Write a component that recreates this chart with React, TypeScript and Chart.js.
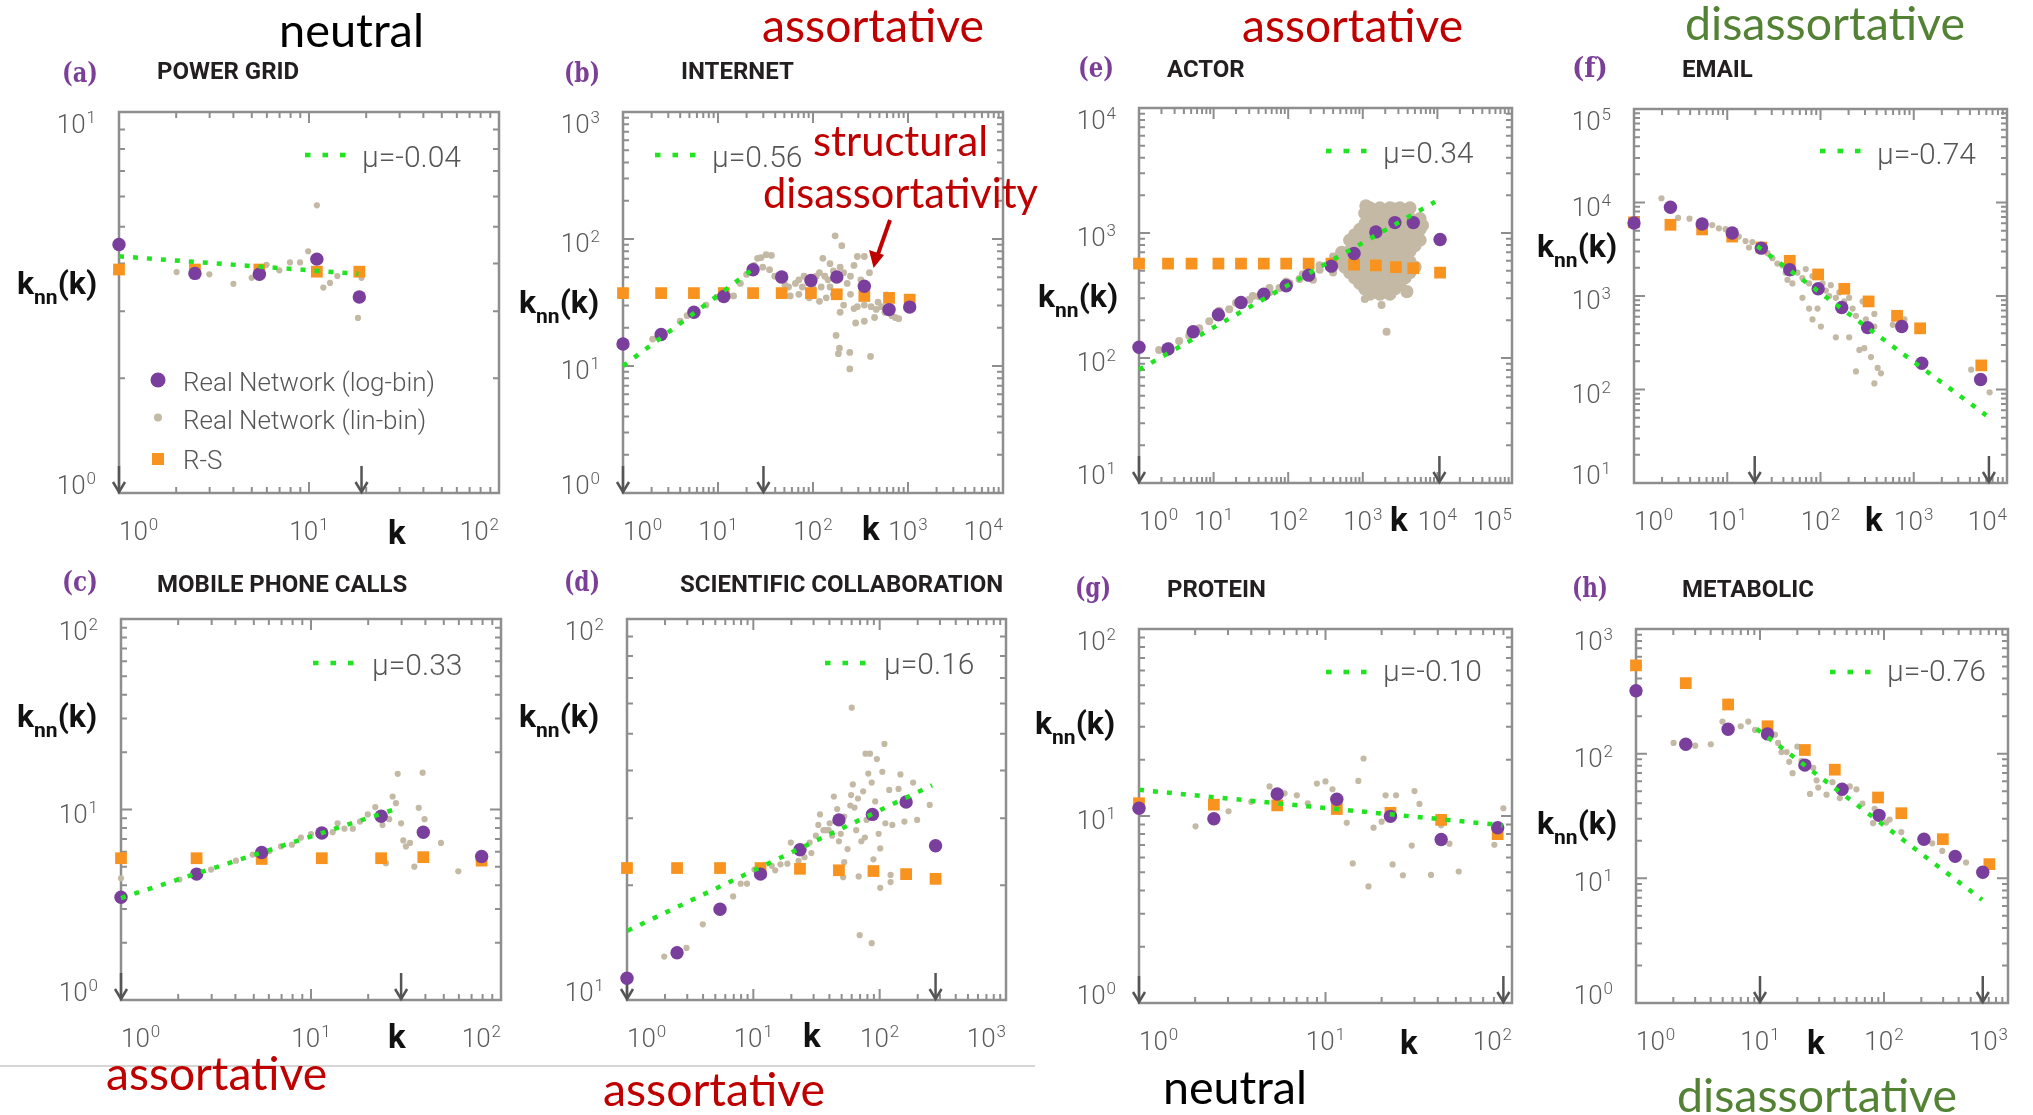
import React, { useEffect, useRef } from 'react';
import { Chart, registerables } from 'chart.js';
Chart.register(...registerables);

// ---------------- DATA ----------------
// (a) POWER GRID
const aLogK = [1, 2.51, 5.48, 11.0, 18.4];
const aLogKnn = [4.49, 3.77, 3.75, 4.11, 3.27];
const aRsK = [1, 2.51, 5.48, 11.0, 18.4];
const aRsKnn = [3.86, 3.86, 3.86, 3.81, 3.81];
const aLinBin = [[2.01,3.80],[2.99,3.75],[4.0,3.54],[4.99,3.67],[5.98,3.97],[6.98,3.84],[7.94,4.03],[8.97,4.03],[9.9,4.31],[11.0,5.69],[11.9,3.46],[12.9,3.56],[14.1,3.71],[18.1,2.88],[18.9,3.67]];
const aFitK = [1, 18.2];
const aFitKnn = [4.18, 3.76];
const aCutoffs = [1, 18.9];

// (b) INTERNET
const bLogK = [1, 2.52, 5.58, 11.5, 23.4, 46.8, 95.1, 178, 347, 632, 1042];
const bLogKnn = [14.9, 17.7, 26.5, 35.3, 57.3, 50.2, 47.1, 50.2, 42.4, 27.8, 29.1];
const bRsK = [1, 2.52, 5.58, 11.5, 23.4, 46.8, 95.1, 178, 347, 632, 1042];
const bRsKnn = [37.5, 37.5, 37.5, 37.5, 37.5, 37.5, 37.5, 36.7, 35.6, 34.4, 33.3];
const bLinBin = [[2.05,16.3],[2.52,18.5],[4.0,22.5],[4.72,24.9],[7.47,30.2],[9.75,34.9],[12.8,35.6],[14.6,35.6],[17.2,44.7],[20.0,52.6],[24.0,61.9],[26.1,70.5],[28.4,71.4],[32.1,75.3],[36.5,74.3],[29.6,59.9],[34.9,57.3],[39.6,50.9],[44.9,47.7],[50.9,43.3],[55.3,41.9],[57.6,35.6],[65.3,44.7],[71.0,47.7],[80.5,50.9],[91.2,48.3],[108,50.9],[117,54.3],[133,50.9],[144,47.7],[164,56.1],[193,59.9],[210,54.3],[229,44.7],[248,50.9],[270,61.9],[293,72.8],[347,72.8],[393,54.3],[171,106],[201,88.6],[127,70.5],[151,63.9],[210,30.2],[248,36.7],[270,28.3],[193,26.5],[293,29.3],[347,30.2],[409,29.3],[464,27.9],[526,29.3],[572,26.5],[676,24.9],[734,24.1],[798,23.6],[281,21.8],[347,22.5],[445,24.1],[175,17.4],[190,13.8],[185,12.5],[244,12.8],[244,9.48],[403,11.9],[596,36.3],[71.0,36.7],[91.2,34.4],[117,32.3],[138,34.4],[164,36.7],[77.2,41.9],[99.1,41.9],[122,41.9],[151,41.9],[319,47.7],[484,31.8]];
const bFitK = [1, 24];
const bFitKnn = [10, 58.7];
const bCutoffs = [1, 30.1];

// (e) ACTOR
const eLogK = [1, 2.45, 5.33, 11.6, 23.3, 47.1, 94.0, 188, 379, 764, 1496, 2693, 4753, 10860];
const eLogKnn = [122, 118, 162, 222, 278, 324, 378, 460, 543, 686, 1020, 1211, 1211, 887];
const eRsK = [1, 2.45, 5.06, 11.6, 23.3, 47.1, 94.0, 188, 379, 764, 1496, 2780, 4753, 10860];
const eRsKnn = [569, 569, 569, 569, 569, 569, 569, 569, 569, 558, 551, 533, 523, 482];
const eLinBin = [[1.86,116],[2.53,124],[3.45,137],[4.71,151],[6.41,173],[8.74,197],[11.9,221],[16.2,245],[22.1,269],[30.2,292],[41.1,312],[56.1,335],[76.4,363],[104,396],[142,428],[194,467],[264,508],[360,558],[491,621],[11.9,239],[20.0,275],[33.5,313],[56.1,363],[94.0,409],[157,467],[264,551],[399,650],[215,423],[399,482],[1064,297],[1783,266],[2081,162]];
const eLinBinCloud = [[1242,1589],[1694,1589],[2307,1589],[3147,1589],[4289,1589],[1242,1303],[1694,1303],[2307,1303],[3147,1303],[4289,1303],[5848,1303],[911,1069],[1242,1069],[1694,1069],[2307,1069],[3147,1069],[4289,1069],[5848,1069],[668,876],[911,876],[1242,876],[1694,876],[2307,876],[3147,876],[4289,876],[5848,876],[668,718],[911,718],[1242,718],[1694,718],[2307,718],[3147,718],[4289,718],[491,589],[668,589],[911,589],[1242,589],[1694,589],[2307,589],[3147,589],[4289,589],[668,482],[911,482],[1242,482],[1694,482],[2307,482],[3147,482],[4289,482],[911,395],[1242,395],[1694,395],[2307,395],[3147,395],[1242,324],[1694,324],[2307,324],[1064,1439],[1450,1439],[1977,1439],[2693,1439],[3673,1439],[1064,1180],[1450,1180],[1977,1180],[2693,1180],[3673,1180],[5010,1180],[780,968],[1064,968],[1450,968],[1977,968],[2693,968],[3673,968],[5010,968],[780,793],[1064,793],[1450,793],[1977,793],[2693,793],[3673,793],[5010,793],[573,650],[780,650],[1064,650],[1450,650],[1977,650],[2693,650],[3673,650],[573,533],[780,533],[1064,533],[1450,533],[1977,533],[2693,533],[3673,533],[5010,533],[780,437],[1064,437],[1450,437],[1977,437],[2693,437],[3673,437],[1064,358],[1450,358],[1977,358],[2693,358],[1100,1650],[2600,1560],[6300,1150],[520,700],[3900,340]];
const eFitK = [1, 9300];
const eFitKnn = [80.5, 1778];
const eCutoffs = [1, 10640];

// (f) EMAIL
const fLogK = [1, 2.46, 5.38, 11.3, 23.2, 46.8, 94.4, 169, 320, 743, 1219, 5210];
const fLogKnn = [6040, 8910, 5880, 4710, 3250, 1910, 1194, 753, 459, 471, 191, 128];
const fRsK = [1, 2.46, 5.38, 11.3, 23.2, 46.8, 94.4, 180, 328, 662, 1170, 5300];
const fRsKnn = [6140, 5780, 5150, 4320, 3300, 2380, 1700, 1194, 875, 614, 451, 181];
const fLinBin = [[1.97,11100],[2.97,6840],[3.94,6710],[6.90,5730],[8.13,5290],[9.60,5180],[13.3,4320],[15.7,3870],[18.6,3780],[17.1,3300],[26.9,2890],[30.5,2540],[34.5,2220],[39.0,2120],[42.4,1778],[44.2,1490],[50.0,1364],[56.6,1778],[64.0,1556],[69.5,1942],[75.5,1364],[82.0,1629],[89.1,1247],[105,1364],[114,1143],[124,1000],[129,1304],[146,957],[159,1092],[180,875],[203,957],[221,733],[240,614],[283,875],[307,562],[378,643],[378,471],[82.0,562],[101,471],[64.0,957],[75.5,733],[92.9,733],[146,361],[203,361],[261,265],[295,277],[348,222],[240,156],[410,170],[445,149],[378,116],[595,492],[794,562],[4130,163],[6510,93.2]];
const fFitK = [21.0, 5990];
const fFitKnn = [3400, 52.9];
const fCutoffs = [19.7, 6400];

// (c) MOBILE PHONE CALLS
const cLogK = [1, 2.50, 5.50, 11.4, 23.4, 39.0, 79.1];
const cLogKnn = [3.46, 4.58, 5.95, 7.53, 9.22, 7.60, 5.67];
const cRsK = [1, 2.50, 5.50, 11.4, 23.4, 39.0, 79.1];
const cRsKnn = [5.55, 5.55, 5.50, 5.55, 5.55, 5.62, 5.39];
const cLinBin = [[1,4.35],[2.03,4.29],[2.98,4.84],[4.03,5.39],[4.93,5.80],[6.04,6.05],[6.95,6.40],[7.94,6.54],[8.85,7.12],[10.0,7.43],[13.0,7.60],[13.8,8.46],[15.0,7.93],[16.6,7.93],[18.1,8.64],[19.9,9.42],[21.8,10.3],[23.8,8.28],[24.8,5.23],[25.8,8.90],[26.9,11.7],[28.0,10.8],[28.6,15.4],[29.8,8.46],[30.6,6.88],[31.6,6.40],[33.2,6.68],[35.0,5.01],[36.9,10.2],[38.7,15.6],[39.6,8.90],[48.3,6.68],[59.6,4.74],[76.3,5.39]];
const cFitK = [1, 29.2];
const cFitKnn = [3.43, 10.2];
const cCutoffs = [1, 29.8];

// (d) SCIENTIFIC COLLABORATION
const dLogK = [1, 2.49, 5.45, 11.4, 23.4, 47.6, 87.6, 162, 277];
const dLogKnn = [11.4, 13.3, 17.3, 21.4, 24.8, 29.7, 30.7, 33.1, 25.4];
const dRsK = [1, 2.49, 5.45, 11.4, 23.4, 47.6, 89.3, 162, 277];
const dRsKnn = [22.2, 22.2, 22.2, 22.2, 22.1, 21.9, 21.8, 21.4, 20.8];
const dLinBin = [[1.97,13.0],[2.96,13.7],[3.98,15.8],[5.12,17.2],[6.92,18.7],[7.94,20.2],[8.91,20.2],[10.2,22.0],[14.0,22.5],[14.9,21.9],[16.4,22.7],[18.6,22.8],[19.8,25.9],[22.8,23.2],[25.4,23.7],[28.8,24.3],[27.9,25.9],[31.3,27.0],[32.7,28.8],[33.7,30.7],[35.9,27.9],[39.5,27.9],[40.2,29.1],[42.0,27.0],[43.4,34.2],[46.1,31.7],[49.2,27.3],[52.4,23.0],[52.4,30.3],[55.7,24.9],[58.6,32.4],[59.4,34.5],[61.3,36.8],[63.2,32.0],[65.2,27.9],[67.3,33.8],[71.6,26.1],[74.0,35.3],[78.8,29.7],[81.3,39.3],[83.9,44.3],[86.5,37.2],[89.3,23.4],[92.2,33.2],[95.1,42.9],[98.1,27.3],[101,25.0],[105,39.7],[109,47.0],[111,29.1],[101,19.7],[119,35.6],[126,28.8],[141,35.8],[146,39.1],[122,21.3],[122,20.4],[157,29.4],[184,37.2],[198,29.7],[249,32.5],[69.5,14.8],[86.5,14.1],[60.1,58.5],[77.3,44.3],[68.2,21.1],[51.4,21.0],[37.8,27.9],[47.6,26.1],[76.4,26.7]];
const dFitK = [1.01, 260];
const dFitKnn = [15.2, 36.6];
const dCutoffs = [1, 277];

// (g) PROTEIN
const gLogK = [1, 2.52, 5.51, 11.5, 22.3, 41.7, 83.8];
const gLogKnn = [11.0, 9.66, 13.1, 12.3, 9.96, 7.49, 8.66];
const gRsK = [1, 2.52, 5.51, 11.5, 22.3, 41.7, 83.8];
const gRsKnn = [11.7, 11.5, 11.4, 10.9, 10.4, 9.53, 8.0];
const gLinBin = [[2.01,8.81],[3.02,10.6],[4.0,11.9],[5.01,14.4],[6.03,13.2],[7.02,12.9],[8.04,11.7],[8.99,14.9],[10.0,15.3],[10.9,13.9],[13.0,9.20],[14.0,5.58],[15.0,15.4],[16.0,20.3],[17.0,4.20],[18.1,8.66],[20.0,9.32],[21.0,12.9],[22.9,5.51],[23.9,12.9],[26.0,4.82],[29.0,6.95],[30.0,13.6],[31.9,11.6],[36.8,4.84],[41.7,8.92],[46.2,7.11],[51.8,5.05],[80.4,7.02],[89.9,11.0]];
const gFitK = [1, 89.1];
const gFitKnn = [13.8, 8.92];
const gCutoffs = [1, 89.9];

// (h) METABOLIC
const hLogK = [1, 2.52, 5.53, 11.5, 23.0, 45.9, 91.2, 210, 375, 626];
const hLogKnn = [320, 119, 157, 144, 81, 51.8, 32.0, 20.6, 15.0, 11.2];
const hRsK = [1, 2.52, 5.53, 11.5, 23.0, 40.1, 89.5, 138, 298, 708];
const hRsKnn = [511, 368, 248, 166, 107, 74.4, 44.5, 33.3, 20.6, 13.0];
const hLinBin = [[2.01,122],[3.0,116],[4.01,119],[4.98,181],[6.99,166],[8.05,181],[9.12,155],[13.2,142],[14.0,122],[14.9,103],[16.4,103],[17.2,86],[18.3,69.7],[20.0,114],[21.6,87.7],[25.3,47.5],[26.9,76.9],[28.6,61.1],[29.5,53.5],[34.4,46.9],[38.4,59.1],[44.0,44.0],[46.8,48.5],[53.0,54.6],[59.9,51.8],[67.0,39.8],[81.6,27.7],[84.1,36.1],[104,28.1],[111,29.6],[138,23.5],[245,19.1],[295,16.6],[459,13.4]];
const hFitK = [9.40, 618];
const hFitKnn = [158, 6.74];
const hCutoffs = [10, 626];

// ---------------- STYLE ----------------
const PURPLE = '#7a3e9d';
const ORANGE = '#f7931e';
const GRAY = '#c4b9a4';
const GREEN = '#1fe41f';
const AXIS = '#8e8e8e';
const TICKTXT = '#5a5a5a';
const RED = '#c00000';
const DGREEN = '#548235';

const PADL = 75, PADT = 25, PADR = 20, PADB = 60;

type Spec = {
  box: [number, number, number, number];
  xr: [number, number];
  yr: [number, number];
  logK: number[]; logKnn: number[];
  rsK: number[]; rsKnn: number[];
  lin: number[][];
  cloud?: number[][];
  fitK: number[]; fitKnn: number[];
  cut: number[];
  linR?: number;
};

const SPECS: Spec[] = [
  { box: [119, 112, 499, 493], xr: [1, 100], yr: [1, 10], logK: aLogK, logKnn: aLogKnn, rsK: aRsK, rsKnn: aRsKnn, lin: aLinBin, fitK: aFitK, fitKnn: aFitKnn, cut: aCutoffs },
  { box: [623, 112, 1003, 493], xr: [1, 10000], yr: [1, 1000], logK: bLogK, logKnn: bLogKnn, rsK: bRsK, rsKnn: bRsKnn, lin: bLinBin, fitK: bFitK, fitKnn: bFitKnn, cut: bCutoffs, linR: 3.4 },
  { box: [1139, 108, 1512, 483], xr: [1, 100000], yr: [10, 10000], logK: eLogK, logKnn: eLogKnn, rsK: eRsK, rsKnn: eRsKnn, lin: eLinBin, cloud: eLinBinCloud, fitK: eFitK, fitKnn: eFitKnn, cut: eCutoffs, linR: 4 },
  { box: [1634, 109, 2007, 483], xr: [1, 10000], yr: [10, 100000], logK: fLogK, logKnn: fLogKnn, rsK: fRsK, rsKnn: fRsKnn, lin: fLinBin, fitK: fFitK, fitKnn: fFitKnn, cut: fCutoffs },
  { box: [121, 619, 501, 1000], xr: [1, 100], yr: [1, 100], logK: cLogK, logKnn: cLogKnn, rsK: cRsK, rsKnn: cRsKnn, lin: cLinBin, fitK: cFitK, fitKnn: cFitKnn, cut: cCutoffs },
  { box: [627, 619, 1006, 1000], xr: [1, 1000], yr: [10, 100], logK: dLogK, logKnn: dLogKnn, rsK: dRsK, rsKnn: dRsKnn, lin: dLinBin, fitK: dFitK, fitKnn: dFitKnn, cut: dCutoffs },
  { box: [1139, 629, 1512, 1003], xr: [1, 100], yr: [1, 100], logK: gLogK, logKnn: gLogKnn, rsK: gRsK, rsKnn: gRsKnn, lin: gLinBin, fitK: gFitK, fitKnn: gFitKnn, cut: gCutoffs },
  { box: [1636, 629, 2008, 1003], xr: [1, 1000], yr: [1, 1000], logK: hLogK, logKnn: hLogKnn, rsK: hRsK, rsKnn: hRsKnn, lin: hLinBin, fitK: hFitK, fitKnn: hFitKnn, cut: hCutoffs },
];

const ANNOT = [
  { letter: '(a)', lx: 62, ly: 82, title: 'POWER GRID', tx: 157, ty: 79, nx: 17, ny: 294, kx: 388, ky: 544, mu: 'μ=-0.04', dx: 305, dy: 155, mx: 362, my: 167 },
  { letter: '(b)', lx: 564, ly: 82, title: 'INTERNET', tx: 681, ty: 79, nx: 519, ny: 313, kx: 862, ky: 540, mu: 'μ=0.56', dx: 655, dy: 155, mx: 712, my: 167 },
  { letter: '(e)', lx: 1078, ly: 77, title: 'ACTOR', tx: 1167, ty: 77, nx: 1038, ny: 307, kx: 1390, ky: 531, mu: 'μ=0.34', dx: 1326, dy: 151, mx: 1383, my: 163 },
  { letter: '(f)', lx: 1572, ly: 77, title: 'EMAIL', tx: 1682, ty: 77, nx: 1537, ny: 257, kx: 1865, ky: 531, mu: 'μ=-0.74', dx: 1820, dy: 151, mx: 1877, my: 164 },
  { letter: '(c)', lx: 62, ly: 591, title: 'MOBILE PHONE CALLS', tx: 157, ty: 592, nx: 17, ny: 727, kx: 388, ky: 1048, mu: 'μ=0.33', dx: 313, dy: 663, mx: 372, my: 675 },
  { letter: '(d)', lx: 564, ly: 591, title: 'SCIENTIFIC COLLABORATION', tx: 680, ty: 592, nx: 519, ny: 727, kx: 803, ky: 1047, mu: 'μ=0.16', dx: 825, dy: 663, mx: 884, my: 674 },
  { letter: '(g)', lx: 1075, ly: 597, title: 'PROTEIN', tx: 1167, ty: 597, nx: 1035, ny: 734, kx: 1400, ky: 1054, mu: 'μ=-0.10', dx: 1326, dy: 672, mx: 1383, my: 681 },
  { letter: '(h)', lx: 1572, ly: 597, title: 'METABOLIC', tx: 1682, ty: 597, nx: 1537, ny: 834, kx: 1807, ky: 1054, mu: 'μ=-0.76', dx: 1830, dy: 672, mx: 1887, my: 681 },
];

const BIG = [
  { t: 'neutral', x: 279, y: 47, c: '#000', w: 145 },
  { t: 'assortative', x: 762, y: 42, c: RED, w: 222 },
  { t: 'assortative', x: 1242, y: 42, c: RED, w: 221 },
  { t: 'disassortative', x: 1685, y: 40, c: DGREEN, w: 280 },
  { t: 'assortative', x: 106, y: 1090, c: RED, w: 221 },
  { t: 'assortative', x: 603, y: 1106, c: RED, w: 222 },
  { t: 'neutral', x: 1163, y: 1104, c: '#000', w: 144 },
  { t: 'disassortative', x: 1677, y: 1112, c: DGREEN, w: 280 },
];

function pts(xs: number[], ys: number[]) {
  return xs.map((x, i) => ({ x, y: ys[i] }));
}
function pairPts(p: number[][]) {
  return p.map((q) => ({ x: q[0], y: q[1] }));
}

function logTicks(min: number, max: number) {
  const out: { v: number; major: boolean }[] = [];
  const e0 = Math.floor(Math.log10(min) + 1e-9);
  const e1 = Math.ceil(Math.log10(max) - 1e-9);
  for (let e = e0; e <= e1; e++) {
    for (let m = 1; m <= 9; m++) {
      const v = m * Math.pow(10, e);
      if (v >= min * (1 - 1e-9) && v <= max * (1 + 1e-9)) out.push({ v, major: m === 1 });
    }
  }
  return out;
}

function drawPow(ctx: CanvasRenderingContext2D, e: number, x: number, y: number, align: string) {
  ctx.font = '300 26px Roboto';
  const wb = ctx.measureText('10').width;
  ctx.font = '300 17px Roboto';
  const we = ctx.measureText(String(e)).width;
  const tot = wb + we + 1;
  const x0 = align === 'left' ? x : align === 'right' ? x - tot : x - tot / 2;
  ctx.textAlign = 'left';
  ctx.textBaseline = 'alphabetic';
  ctx.font = '300 26px Roboto';
  ctx.fillText('10', x0, y);
  ctx.font = '300 17px Roboto';
  ctx.fillText(String(e), x0 + wb + 1, y - 10);
}

function Panel({ spec }: { spec: Spec }) {
  const ref = useRef<HTMLCanvasElement>(null);
  const [L, T, R, B] = spec.box;
  const w = R - L + PADL + PADR;
  const h = B - T + PADT + PADB;

  useEffect(() => {
    const frame = {
      id: 'frame',
      beforeDatasetsDraw(chart: any) {
        const ctx: CanvasRenderingContext2D = chart.ctx;
        const a = chart.chartArea;
        const xs = chart.scales.x;
        const ys = chart.scales.y;
        ctx.save();
        ctx.strokeStyle = AXIS;
        ctx.lineWidth = 2;
        for (const t of logTicks(spec.xr[0], spec.xr[1])) {
          const p = xs.getPixelForValue(t.v);
          const len = t.major ? 11 : 6;
          ctx.beginPath();
          ctx.moveTo(p, a.bottom); ctx.lineTo(p, a.bottom - len);
          ctx.moveTo(p, a.top); ctx.lineTo(p, a.top + len);
          ctx.stroke();
        }
        for (const t of logTicks(spec.yr[0], spec.yr[1])) {
          const p = ys.getPixelForValue(t.v);
          const len = t.major ? 11 : 6;
          ctx.beginPath();
          ctx.moveTo(a.left, p); ctx.lineTo(a.left + len, p);
          ctx.moveTo(a.right, p); ctx.lineTo(a.right - len, p);
          ctx.stroke();
        }
        ctx.lineWidth = 2.5;
        ctx.strokeRect(a.left, a.top, a.right - a.left, a.bottom - a.top);

        ctx.fillStyle = TICKTXT;
        const x0 = Math.round(Math.log10(spec.xr[0]));
        const x1 = Math.round(Math.log10(spec.xr[1]));
        for (let e = x0; e <= x1; e++) {
          const p = xs.getPixelForValue(Math.pow(10, e));
          drawPow(ctx, e, p, a.bottom + 47, e === x0 ? 'left' : e === x1 ? 'right' : 'center');
        }
        const y0 = Math.round(Math.log10(spec.yr[0]));
        const y1 = Math.round(Math.log10(spec.yr[1]));
        for (let e = y0; e <= y1; e++) {
          const p = ys.getPixelForValue(Math.pow(10, e));
          const yy = e === y1 ? a.top + 21 : e === y0 ? a.bottom + 1 : p + 13;
          drawPow(ctx, e, a.left - 23, yy, 'right');
        }

        ctx.strokeStyle = '#555';
        ctx.lineWidth = 2.5;
        for (const k of spec.cut) {
          const p = xs.getPixelForValue(k);
          ctx.beginPath();
          ctx.moveTo(p, a.bottom - 27); ctx.lineTo(p, a.bottom - 1);
          ctx.stroke();
          ctx.beginPath();
          ctx.moveTo(p - 6, a.bottom - 11); ctx.lineTo(p, a.bottom - 1); ctx.lineTo(p + 6, a.bottom - 11);
          ctx.stroke();
        }
        ctx.restore();
      },
    };

    const datasets: any[] = [
      {
        label: 'Real Network (lin-bin)', data: pairPts(spec.lin), pointRadius: spec.linR || 3.1,
        pointBackgroundColor: GRAY, pointBorderWidth: 0, order: 4, clip: false,
      },
      {
        label: 'R-S', data: pts(spec.rsK, spec.rsKnn), pointStyle: 'rect', pointRadius: 8.3,
        pointBackgroundColor: ORANGE, pointBorderWidth: 0, order: 2, clip: false,
      },
      {
        label: 'Real Network (log-bin)', data: pts(spec.logK, spec.logKnn), pointRadius: 6.7,
        pointBackgroundColor: PURPLE, pointBorderWidth: 0, order: 1, clip: false,
      },
      {
        label: 'fit', data: pts(spec.fitK, spec.fitKnn), showLine: true, pointRadius: 0,
        borderColor: GREEN, borderWidth: 4.5, borderDash: [5, 9], borderCapStyle: 'butt', order: 0, clip: false,
      },
    ];
    if (spec.cloud) {
      datasets.push({
        label: 'Real Network (lin-bin) dense', data: pairPts(spec.cloud), pointRadius: 6.6,
        pointBackgroundColor: GRAY, pointBorderWidth: 0, order: 3, clip: false,
      });
    }

    const chart = new Chart(ref.current as HTMLCanvasElement, {
      type: 'scatter',
      data: { datasets },
      options: {
        animation: false,
        responsive: false,
        devicePixelRatio: 1,
        events: [],
        layout: { padding: { left: PADL, top: PADT, right: PADR, bottom: PADB } },
        scales: {
          x: { type: 'logarithmic', min: spec.xr[0], max: spec.xr[1], display: false },
          y: { type: 'logarithmic', min: spec.yr[0], max: spec.yr[1], display: false },
        },
        plugins: { legend: { display: false }, tooltip: { enabled: false } },
      } as any,
      plugins: [frame as any],
    });
    return () => chart.destroy();
  }, []);

  return (
    <canvas
      ref={ref}
      width={w}
      height={h}
      style={{ position: 'absolute', left: L - PADL, top: T - PADT, width: w, height: h }}
    />
  );
}

function Overlay() {
  return (
    <svg width={2033} height={1115} style={{ position: 'absolute', left: 0, top: 0, pointerEvents: 'none' }}>
      <line x1={0} y1={1066} x2={1035} y2={1066} stroke="#c8c8c8" strokeWidth={1.5} />
      {BIG.map((b, i) => (
        <text key={'big' + i} x={b.x} y={b.y} fill={b.c} fontFamily="Lato, 'Open Sans', sans-serif" fontSize={46}
          textLength={b.w} lengthAdjust="spacingAndGlyphs">{b.t}</text>
      ))}
      <text x={813} y={156} fill={RED} fontFamily="Lato, 'Open Sans', sans-serif" fontSize={42} textLength={175} lengthAdjust="spacingAndGlyphs">structural</text>
      <text x={763} y={208} fill={RED} fontFamily="Lato, 'Open Sans', sans-serif" fontSize={42} textLength={275} lengthAdjust="spacingAndGlyphs">disassortativity</text>
      <line x1={890} y1={220} x2={877} y2={257} stroke={RED} strokeWidth={4} />
      <polygon points="873.6,268 869,250 884,255" fill={RED} />
      {ANNOT.map((p, i) => (
        <g key={'an' + i}>
          <text x={p.lx} y={p.ly} fill="#7b3f98" fontFamily="'DejaVu Serif', serif" fontWeight="bold" fontSize={27}
            textLength={36} lengthAdjust="spacingAndGlyphs">{p.letter}</text>
          <text x={p.tx} y={p.ty} fill="#231f20" fontFamily="Roboto, sans-serif" fontWeight="bold" fontSize={24}>{p.title}</text>
          <text x={p.nx} y={p.ny} fill="#111" fontFamily="Roboto, sans-serif" fontWeight="bold" fontSize={32}>
            k<tspan fontSize={21} dy={10}>nn</tspan><tspan dy={-10}>(k)</tspan>
          </text>
          <text x={p.kx} y={p.ky} fill="#111" fontFamily="Roboto, sans-serif" fontWeight="bold" fontSize={33}>k</text>
          <rect x={p.dx} y={p.dy - 2.3} width={5.5} height={4.6} fill={GREEN} />
          <rect x={p.dx + 17.5} y={p.dy - 2.3} width={5.5} height={4.6} fill={GREEN} />
          <rect x={p.dx + 35} y={p.dy - 2.3} width={5.5} height={4.6} fill={GREEN} />
          <text x={p.mx} y={p.my} fill="#555" fontFamily="Roboto, sans-serif" fontWeight={300} fontSize={30}>{p.mu}</text>
        </g>
      ))}
      <circle cx={158} cy={380} r={7.5} fill={PURPLE} />
      <circle cx={158} cy={417.5} r={4} fill={GRAY} />
      <rect x={152} y={453} width={12} height={12} fill={ORANGE} />
      <text x={183} y={390.5} fill="#555" fontFamily="Roboto, sans-serif" fontWeight={300} fontSize={26}>Real Network (log-bin)</text>
      <text x={183} y={429} fill="#555" fontFamily="Roboto, sans-serif" fontWeight={300} fontSize={26}>Real Network (lin-bin)</text>
      <text x={183} y={468.5} fill="#555" fontFamily="Roboto, sans-serif" fontWeight={300} fontSize={26}>R-S</text>
    </svg>
  );
}

export default function App() {
  return (
    <div style={{ position: 'absolute', left: 0, top: 0, width: 2033, height: 1115, overflow: 'hidden', background: '#fff' }}>
      {SPECS.map((s, i) => (
        <Panel key={i} spec={s} />
      ))}
      <Overlay />
    </div>
  );
}
